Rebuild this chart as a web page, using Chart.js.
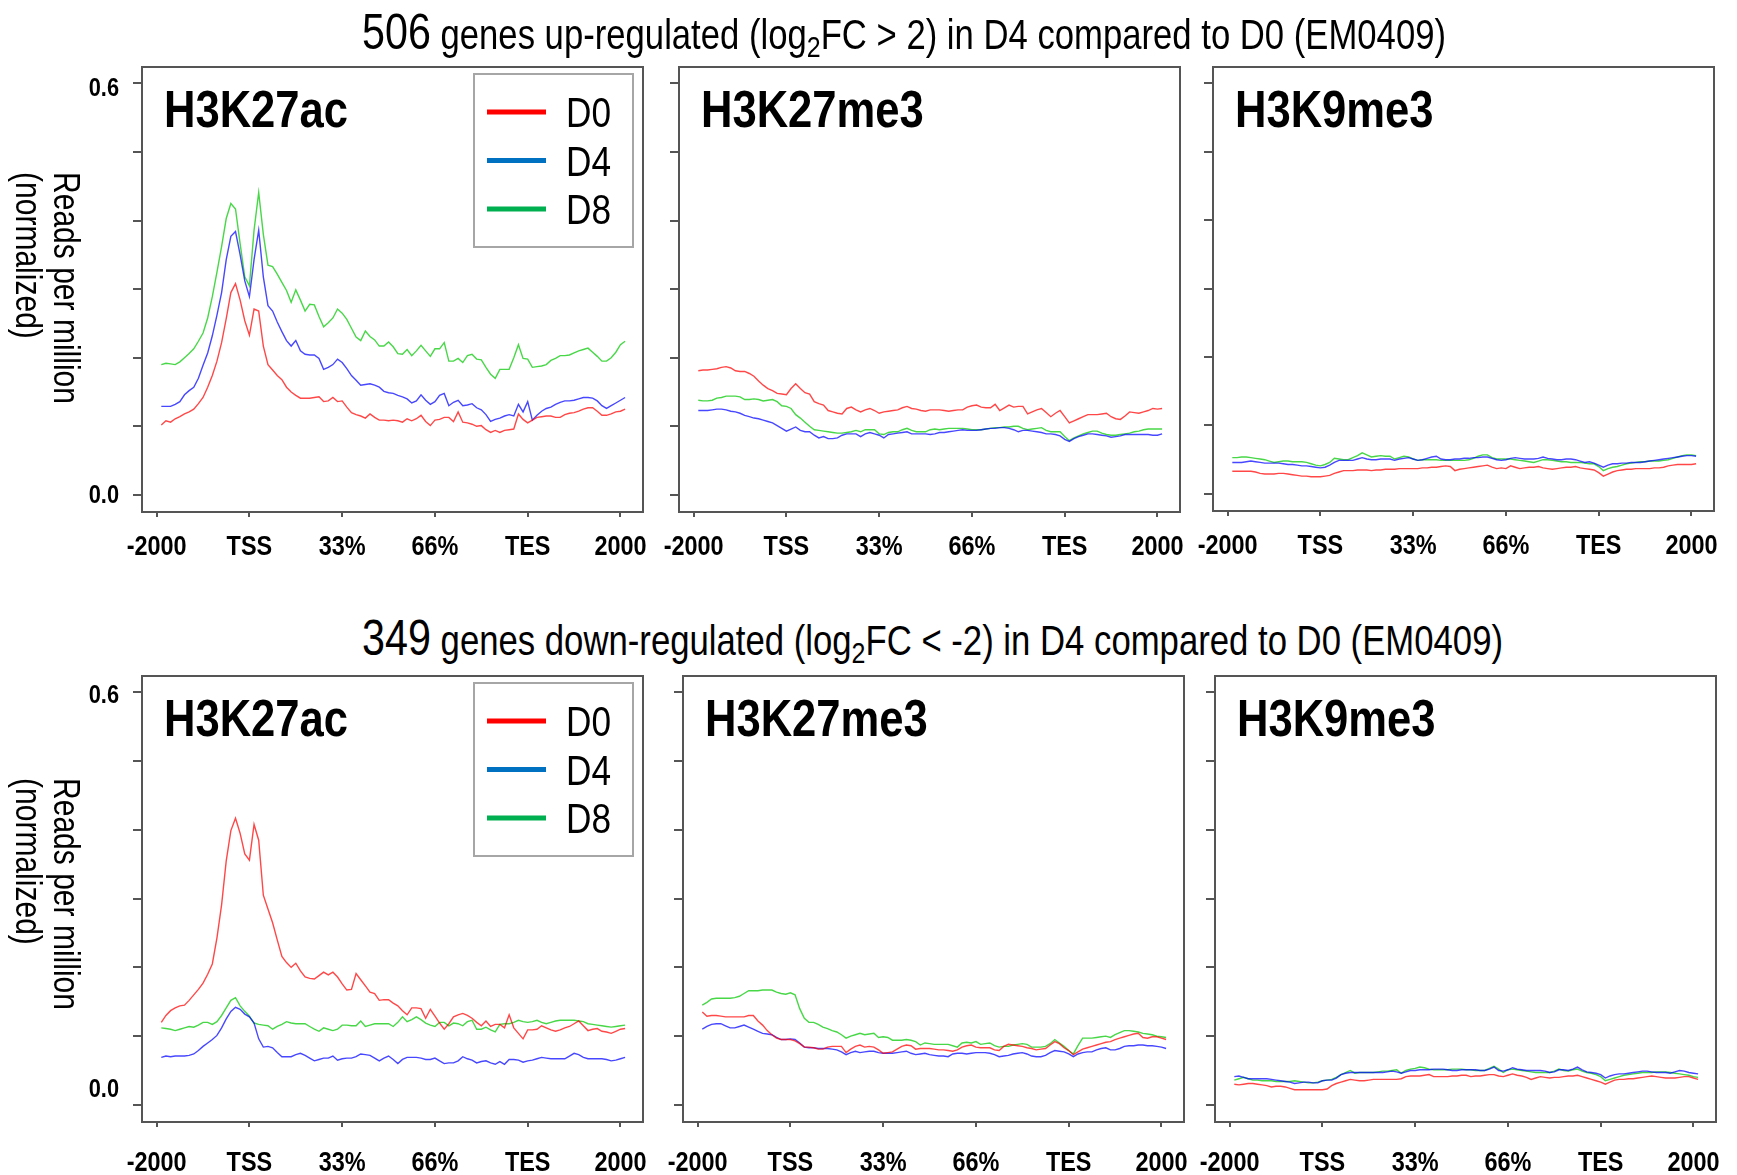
<!DOCTYPE html>
<html>
<head>
<meta charset="utf-8">
<script src="https://cdn.jsdelivr.net/npm/chart.js@4.4.1/dist/chart.umd.min.js"></script>
<style>
html,body{margin:0;padding:0;background:#fff;}
#wrap{position:relative;width:1737px;height:1175px;overflow:hidden;background:#fff;}
#wrap canvas{position:absolute;}
.title{position:absolute;white-space:nowrap;color:#000;transform-origin:0 0;line-height:1;}
.title sub{font-size:0.72em;vertical-align:-0.28em;line-height:1;}
.ytitle{position:absolute;white-space:nowrap;color:#000;transform-origin:0 0;font-size:37px;line-height:38px;}
</style>
</head>
<body>
<div id="wrap"></div>
<script>
// ---------------- data ----------------
const SERIES_NAMES = ['D0', 'D4', 'D8'];
const X_TICKS = [0, 1, 2, 3, 4, 5];
const X_TICK_LABELS = ['-2000', 'TSS', '33%', '66%', 'TES', '2000'];
const Y_TICKS = [0, 0.1, 0.2, 0.3, 0.4, 0.5, 0.6];
const Y_TICK_LABELS = ['0.0', '', '', '', '', '', '0.6'];
const X_FIRST = 0.05, X_STEP = 0.05;   // profile bin positions (in tick units)

// 506 up-regulated genes
const upAcD0 = [0.102,0.108,0.106,0.111,0.114,0.118,0.121,0.125,0.133,0.142,
0.157,0.174,0.195,0.222,0.257,0.295,0.308,0.284,0.254,0.233,
0.271,0.268,0.217,0.190,0.182,0.174,0.168,0.157,0.150,0.145,
0.141,0.141,0.141,0.142,0.143,0.136,0.137,0.142,0.136,0.137,
0.128,0.120,0.117,0.115,0.112,0.118,0.113,0.109,0.109,0.108,
0.109,0.108,0.106,0.111,0.108,0.111,0.116,0.107,0.101,0.109,
0.110,0.113,0.113,0.107,0.121,0.106,0.105,0.103,0.100,0.101,
0.095,0.091,0.094,0.091,0.094,0.095,0.096,0.118,0.110,0.105,
0.109,0.113,0.114,0.115,0.115,0.113,0.113,0.117,0.119,0.120,
0.122,0.125,0.127,0.127,0.122,0.116,0.116,0.118,0.121,0.122,
0.125];
const upAcD4 = [0.129,0.129,0.129,0.132,0.136,0.146,0.152,0.157,0.170,0.189,
0.207,0.232,0.262,0.295,0.343,0.377,0.384,0.350,0.312,0.289,
0.343,0.386,0.318,0.276,0.268,0.252,0.238,0.225,0.217,0.225,
0.210,0.205,0.204,0.204,0.199,0.183,0.186,0.190,0.198,0.193,
0.184,0.174,0.167,0.160,0.161,0.162,0.160,0.157,0.151,0.149,
0.148,0.145,0.143,0.140,0.134,0.137,0.146,0.138,0.132,0.136,
0.145,0.148,0.130,0.135,0.138,0.130,0.131,0.133,0.127,0.124,
0.117,0.107,0.110,0.112,0.115,0.117,0.115,0.132,0.121,0.136,
0.109,0.116,0.122,0.126,0.128,0.132,0.135,0.137,0.137,0.138,
0.140,0.142,0.142,0.141,0.137,0.130,0.126,0.130,0.134,0.138,
0.142];
const upAcD8 = [0.190,0.192,0.191,0.190,0.194,0.200,0.206,0.213,0.224,0.236,
0.258,0.289,0.325,0.362,0.403,0.425,0.417,0.366,0.318,0.305,
0.386,0.441,0.380,0.335,0.333,0.322,0.310,0.298,0.281,0.299,
0.284,0.268,0.278,0.277,0.260,0.245,0.251,0.258,0.271,0.265,
0.256,0.243,0.230,0.225,0.239,0.231,0.226,0.217,0.217,0.223,
0.216,0.206,0.205,0.212,0.203,0.210,0.218,0.210,0.202,0.213,
0.213,0.222,0.195,0.195,0.199,0.193,0.203,0.205,0.198,0.197,
0.186,0.176,0.170,0.183,0.183,0.183,0.200,0.219,0.199,0.198,
0.186,0.187,0.188,0.190,0.196,0.199,0.203,0.203,0.204,0.207,
0.210,0.212,0.214,0.208,0.202,0.195,0.195,0.200,0.208,0.219,
0.224];
const upK27D0 = [0.181,0.182,0.182,0.183,0.184,0.186,0.187,0.185,0.181,0.180,
0.180,0.177,0.173,0.166,0.160,0.155,0.152,0.148,0.147,0.146,
0.155,0.162,0.155,0.149,0.147,0.136,0.133,0.131,0.123,0.121,
0.119,0.118,0.126,0.128,0.124,0.121,0.124,0.126,0.123,0.119,
0.121,0.122,0.123,0.124,0.127,0.129,0.126,0.125,0.123,0.122,
0.124,0.124,0.124,0.123,0.122,0.123,0.124,0.124,0.128,0.130,
0.131,0.128,0.127,0.127,0.132,0.123,0.127,0.131,0.128,0.129,
0.129,0.118,0.121,0.124,0.126,0.120,0.114,0.119,0.123,0.114,
0.105,0.108,0.111,0.114,0.117,0.117,0.117,0.118,0.119,0.114,
0.111,0.110,0.115,0.121,0.120,0.119,0.121,0.123,0.126,0.125,
0.126];
const upK27D4 = [0.123,0.123,0.123,0.124,0.125,0.125,0.124,0.122,0.121,0.119,
0.116,0.114,0.112,0.111,0.109,0.107,0.105,0.101,0.097,0.093,
0.096,0.099,0.094,0.092,0.092,0.087,0.083,0.085,0.082,0.082,
0.083,0.087,0.089,0.089,0.089,0.085,0.089,0.091,0.089,0.087,
0.083,0.088,0.089,0.090,0.091,0.092,0.089,0.089,0.089,0.089,
0.088,0.089,0.091,0.091,0.092,0.093,0.094,0.095,0.094,0.094,
0.094,0.095,0.096,0.097,0.097,0.098,0.098,0.097,0.095,0.092,
0.094,0.094,0.093,0.092,0.091,0.089,0.089,0.088,0.086,0.081,
0.078,0.082,0.085,0.087,0.089,0.089,0.088,0.087,0.086,0.084,
0.085,0.086,0.088,0.088,0.088,0.088,0.088,0.088,0.087,0.087,
0.089];
const upK27D8 = [0.138,0.137,0.137,0.138,0.141,0.142,0.144,0.144,0.144,0.143,
0.139,0.139,0.140,0.139,0.137,0.138,0.139,0.136,0.130,0.129,
0.126,0.117,0.112,0.106,0.100,0.095,0.094,0.093,0.092,0.091,
0.090,0.090,0.091,0.092,0.094,0.092,0.095,0.095,0.095,0.089,
0.088,0.091,0.092,0.092,0.095,0.097,0.094,0.092,0.092,0.092,
0.095,0.096,0.095,0.096,0.097,0.097,0.097,0.097,0.096,0.095,
0.095,0.095,0.096,0.097,0.098,0.098,0.099,0.099,0.100,0.100,
0.097,0.095,0.096,0.097,0.098,0.094,0.092,0.092,0.092,0.085,
0.079,0.083,0.086,0.089,0.091,0.093,0.093,0.090,0.088,0.087,
0.087,0.088,0.089,0.090,0.092,0.093,0.095,0.096,0.096,0.096,
0.096];
const upK9D0 = [0.033,0.033,0.033,0.033,0.033,0.032,0.030,0.029,0.029,0.029,
0.030,0.030,0.029,0.028,0.027,0.026,0.026,0.025,0.025,0.025,
0.026,0.027,0.030,0.032,0.034,0.034,0.034,0.035,0.035,0.035,
0.034,0.035,0.035,0.036,0.036,0.036,0.037,0.037,0.037,0.037,
0.037,0.038,0.038,0.039,0.039,0.040,0.041,0.040,0.034,0.036,
0.037,0.038,0.039,0.040,0.041,0.042,0.039,0.037,0.038,0.037,
0.041,0.039,0.037,0.038,0.039,0.039,0.040,0.038,0.037,0.036,
0.037,0.038,0.039,0.039,0.040,0.038,0.037,0.036,0.035,0.031,
0.026,0.029,0.032,0.034,0.035,0.036,0.036,0.037,0.037,0.037,
0.037,0.038,0.038,0.039,0.041,0.042,0.043,0.043,0.043,0.043,
0.044];
const upK9D4 = [0.046,0.046,0.046,0.047,0.048,0.047,0.046,0.045,0.045,0.045,
0.045,0.044,0.043,0.043,0.042,0.041,0.041,0.040,0.039,0.038,
0.039,0.042,0.046,0.049,0.049,0.049,0.049,0.051,0.053,0.051,
0.050,0.050,0.051,0.051,0.051,0.049,0.051,0.052,0.053,0.051,
0.049,0.050,0.052,0.054,0.055,0.051,0.050,0.050,0.051,0.051,
0.052,0.052,0.053,0.053,0.054,0.054,0.052,0.050,0.049,0.050,
0.052,0.053,0.052,0.051,0.051,0.051,0.052,0.054,0.052,0.051,
0.050,0.050,0.051,0.051,0.050,0.048,0.046,0.047,0.045,0.042,
0.039,0.042,0.044,0.044,0.045,0.045,0.046,0.046,0.046,0.047,
0.048,0.049,0.050,0.051,0.052,0.053,0.054,0.055,0.056,0.056,
0.055];
const upK9D8 = [0.053,0.053,0.054,0.054,0.053,0.052,0.051,0.050,0.048,0.046,
0.047,0.048,0.048,0.047,0.047,0.047,0.046,0.044,0.042,0.041,
0.043,0.046,0.052,0.051,0.050,0.050,0.053,0.056,0.060,0.057,
0.054,0.055,0.056,0.055,0.055,0.051,0.053,0.055,0.054,0.051,
0.049,0.050,0.050,0.050,0.050,0.049,0.049,0.049,0.049,0.049,
0.049,0.050,0.052,0.055,0.057,0.057,0.053,0.051,0.051,0.051,
0.051,0.050,0.049,0.048,0.047,0.046,0.048,0.050,0.050,0.049,
0.048,0.047,0.047,0.046,0.046,0.046,0.045,0.044,0.044,0.040,
0.034,0.037,0.039,0.040,0.042,0.044,0.045,0.046,0.047,0.047,
0.048,0.048,0.048,0.049,0.050,0.052,0.054,0.056,0.057,0.057,
0.056];

// 349 down-regulated genes
const dnAcD0 = [0.120,0.130,0.137,0.141,0.144,0.145,0.152,0.160,0.168,0.177,
0.190,0.205,0.243,0.291,0.355,0.399,0.417,0.395,0.365,0.356,
0.408,0.385,0.305,0.285,0.265,0.240,0.216,0.207,0.200,0.206,
0.195,0.186,0.184,0.183,0.188,0.193,0.189,0.193,0.186,0.176,
0.167,0.168,0.191,0.182,0.173,0.164,0.162,0.152,0.153,0.153,
0.148,0.144,0.137,0.131,0.141,0.141,0.140,0.126,0.139,0.129,
0.119,0.110,0.118,0.128,0.131,0.133,0.130,0.126,0.120,0.115,
0.122,0.114,0.117,0.117,0.112,0.131,0.112,0.104,0.096,0.109,
0.109,0.110,0.115,0.112,0.109,0.107,0.109,0.112,0.114,0.118,
0.122,0.115,0.108,0.110,0.111,0.107,0.106,0.104,0.107,0.110,
0.111];
const dnAcD4 = [0.069,0.071,0.070,0.071,0.071,0.071,0.072,0.074,0.079,0.085,
0.090,0.095,0.101,0.112,0.125,0.136,0.142,0.139,0.132,0.128,
0.119,0.096,0.084,0.085,0.083,0.076,0.070,0.070,0.070,0.073,
0.075,0.072,0.068,0.064,0.066,0.068,0.068,0.071,0.065,0.067,
0.068,0.068,0.070,0.074,0.073,0.072,0.068,0.064,0.068,0.071,
0.066,0.060,0.066,0.069,0.069,0.069,0.068,0.066,0.066,0.068,
0.064,0.060,0.061,0.061,0.064,0.070,0.067,0.065,0.061,0.063,
0.064,0.061,0.059,0.063,0.059,0.066,0.066,0.065,0.062,0.064,
0.065,0.067,0.069,0.068,0.067,0.067,0.067,0.067,0.071,0.075,
0.073,0.069,0.067,0.067,0.067,0.067,0.066,0.064,0.065,0.067,
0.069];
const dnAcD8 = [0.112,0.111,0.110,0.108,0.110,0.112,0.114,0.113,0.116,0.120,
0.120,0.117,0.121,0.130,0.141,0.152,0.156,0.144,0.136,0.129,
0.119,0.117,0.116,0.115,0.110,0.114,0.117,0.121,0.119,0.118,
0.118,0.118,0.114,0.110,0.107,0.112,0.110,0.108,0.110,0.116,
0.116,0.115,0.115,0.122,0.114,0.116,0.118,0.118,0.118,0.118,
0.114,0.120,0.128,0.121,0.124,0.128,0.124,0.119,0.116,0.114,
0.120,0.120,0.115,0.119,0.118,0.115,0.121,0.123,0.110,0.110,
0.113,0.109,0.106,0.117,0.118,0.118,0.120,0.123,0.121,0.120,
0.121,0.123,0.120,0.118,0.120,0.122,0.123,0.123,0.123,0.123,
0.122,0.121,0.118,0.117,0.116,0.115,0.114,0.113,0.114,0.115,
0.116];
const dnK27D0 = [0.135,0.129,0.130,0.130,0.129,0.128,0.128,0.128,0.128,0.128,
0.130,0.130,0.122,0.116,0.108,0.102,0.097,0.095,0.095,0.095,
0.093,0.089,0.084,0.084,0.083,0.081,0.081,0.084,0.085,0.085,
0.085,0.076,0.081,0.085,0.087,0.084,0.085,0.084,0.080,0.075,
0.076,0.077,0.081,0.085,0.087,0.086,0.081,0.082,0.082,0.082,
0.081,0.080,0.080,0.079,0.078,0.080,0.084,0.086,0.087,0.084,
0.083,0.083,0.083,0.080,0.079,0.085,0.088,0.087,0.086,0.085,
0.083,0.082,0.080,0.081,0.082,0.087,0.092,0.089,0.083,0.079,
0.073,0.077,0.081,0.083,0.085,0.087,0.089,0.091,0.092,0.095,
0.097,0.099,0.101,0.103,0.104,0.098,0.097,0.099,0.099,0.097,
0.095];
const dnK27D4 = [0.110,0.114,0.117,0.118,0.118,0.115,0.112,0.112,0.114,0.116,
0.113,0.110,0.107,0.104,0.103,0.102,0.098,0.095,0.095,0.096,
0.095,0.090,0.084,0.083,0.083,0.082,0.082,0.082,0.081,0.080,
0.077,0.073,0.076,0.078,0.076,0.077,0.078,0.078,0.076,0.075,
0.075,0.075,0.076,0.077,0.078,0.075,0.073,0.074,0.075,0.073,
0.072,0.071,0.071,0.070,0.074,0.075,0.075,0.074,0.075,0.076,
0.076,0.076,0.075,0.073,0.070,0.071,0.072,0.074,0.075,0.076,
0.074,0.071,0.070,0.070,0.072,0.076,0.079,0.078,0.077,0.074,
0.070,0.074,0.076,0.077,0.077,0.080,0.082,0.083,0.080,0.080,
0.082,0.085,0.086,0.086,0.087,0.087,0.086,0.086,0.085,0.084,
0.082];
const dnK27D8 = [0.145,0.149,0.154,0.155,0.155,0.155,0.155,0.156,0.158,0.162,
0.166,0.166,0.166,0.167,0.167,0.167,0.164,0.162,0.161,0.163,
0.160,0.140,0.126,0.120,0.120,0.117,0.113,0.111,0.108,0.106,
0.102,0.097,0.100,0.102,0.104,0.102,0.103,0.104,0.098,0.099,
0.098,0.094,0.094,0.094,0.095,0.094,0.092,0.087,0.090,0.089,
0.088,0.088,0.088,0.088,0.086,0.084,0.090,0.091,0.090,0.092,
0.088,0.089,0.090,0.086,0.084,0.085,0.085,0.087,0.088,0.089,
0.088,0.084,0.084,0.084,0.085,0.089,0.095,0.090,0.085,0.079,
0.074,0.086,0.097,0.097,0.097,0.098,0.099,0.100,0.098,0.102,
0.105,0.108,0.108,0.107,0.106,0.104,0.103,0.102,0.100,0.099,
0.098];
const dnK9D0 = [0.030,0.029,0.030,0.031,0.031,0.030,0.029,0.028,0.026,0.027,
0.027,0.026,0.024,0.022,0.022,0.022,0.022,0.022,0.022,0.022,
0.023,0.028,0.031,0.033,0.035,0.037,0.036,0.035,0.035,0.036,
0.037,0.037,0.037,0.037,0.037,0.037,0.038,0.041,0.042,0.042,
0.042,0.043,0.044,0.041,0.041,0.041,0.041,0.042,0.042,0.043,
0.043,0.041,0.042,0.042,0.043,0.044,0.044,0.042,0.041,0.043,
0.045,0.043,0.042,0.040,0.037,0.039,0.041,0.040,0.039,0.040,
0.040,0.041,0.042,0.042,0.043,0.041,0.039,0.037,0.035,0.033,
0.030,0.033,0.036,0.037,0.037,0.038,0.038,0.039,0.040,0.041,
0.042,0.041,0.040,0.039,0.039,0.039,0.040,0.041,0.041,0.039,
0.037];
const dnK9D4 = [0.041,0.042,0.040,0.038,0.038,0.038,0.038,0.038,0.037,0.036,
0.035,0.034,0.033,0.031,0.032,0.033,0.033,0.032,0.032,0.035,
0.036,0.036,0.039,0.044,0.046,0.047,0.047,0.047,0.047,0.047,
0.047,0.047,0.047,0.048,0.049,0.048,0.046,0.048,0.050,0.050,
0.051,0.051,0.051,0.052,0.052,0.052,0.051,0.050,0.050,0.051,
0.051,0.051,0.051,0.050,0.050,0.052,0.055,0.050,0.049,0.051,
0.054,0.052,0.051,0.050,0.050,0.050,0.050,0.049,0.047,0.048,
0.051,0.051,0.050,0.052,0.055,0.051,0.048,0.047,0.046,0.044,
0.039,0.042,0.044,0.045,0.045,0.046,0.047,0.048,0.049,0.049,
0.048,0.047,0.047,0.047,0.046,0.048,0.050,0.049,0.047,0.046,
0.045];
const dnK9D8 = [0.036,0.038,0.040,0.038,0.036,0.036,0.035,0.035,0.035,0.034,
0.034,0.034,0.034,0.035,0.034,0.033,0.032,0.032,0.033,0.035,
0.036,0.037,0.040,0.044,0.047,0.050,0.046,0.047,0.047,0.047,
0.047,0.048,0.049,0.049,0.050,0.051,0.046,0.050,0.052,0.053,
0.055,0.054,0.052,0.051,0.051,0.051,0.051,0.052,0.052,0.052,
0.051,0.051,0.050,0.050,0.050,0.053,0.056,0.052,0.047,0.051,
0.052,0.051,0.050,0.049,0.048,0.047,0.047,0.047,0.047,0.049,
0.052,0.050,0.049,0.051,0.052,0.049,0.047,0.046,0.044,0.041,
0.035,0.037,0.039,0.041,0.043,0.044,0.045,0.046,0.047,0.047,
0.047,0.048,0.048,0.048,0.047,0.046,0.045,0.044,0.043,0.041,
0.040];

// ---------------- text ----------------
const TITLES = [
  {count: '506', pre: ' genes up-regulated (log', sub: '2', post: 'FC > 2) in D4 compared to D0 (EM0409)'},
  {count: '349', pre: ' genes down-regulated (log', sub: '2', post: 'FC < -2) in D4 compared to D0 (EM0409)'}
];
const Y_TITLE = ['Reads per million', '(normalized)'];
const MARKS = ['H3K27ac', 'H3K27me3', 'H3K9me3'];

// ---------------- styles / layout ----------------
const LINE_COLORS = ['rgba(255,0,0,0.72)', 'rgba(0,0,255,0.72)', 'rgba(0,200,0,0.72)'];
const LEGEND_COLORS = ['#ff0000', '#0070c0', '#00b050'];
const AXIS_COLOR = '#555555';
const X_MIN = -0.158, X_MAX = 5.243, Y_MIN = -0.025, Y_MAX = 0.624;
const PAD_L = 90, PAD_R = 22, PAD_T = 5, PAD_B = 62;

function hasFont(name) {
  const c = document.createElement('canvas').getContext('2d');
  const s = 'abcdefghijklmnopqrstuvwxyz ABCDEFGHKM 0123456789%-';
  let diff = false;
  ['monospace', 'serif'].forEach(g => {
    c.font = '40px ' + g; const a = c.measureText(s).width;
    c.font = '40px "' + name + '", ' + g; const b = c.measureText(s).width;
    if (Math.abs(a - b) > 0.5) diff = true;
  });
  return diff;
}
let FONT = 'Liberation Sans';
for (const f of ['Liberation Sans Narrow', 'Arial Narrow']) {
  if (hasFont(f)) { FONT = f; break; }
}
// horizontal squeeze so glyphs match the condensed face of the reference
const _mc = document.createElement('canvas').getContext('2d');
_mc.font = 'bold 52px "' + FONT + '"';
const SQUEEZE = Math.max(0.7, Math.min(1.15, 184 / _mc.measureText('H3K27ac').width));

const binX = upAcD0.map((_, i) => +(X_FIRST + i * X_STEP).toFixed(3));

// box: [left, top, right, bottom]; xLab: cap-centre offset of x labels below frame; yLab: offsets of y labels
const PANELS = [
  {box: [142, 67, 643, 512],  mark: MARKS[0], series: [upAcD0, upAcD4, upAcD8], yLabels: true,  legend: true,  xLab: 33, yLab: [-1, 3]},
  {box: [679, 67, 1180, 512], mark: MARKS[1], series: [upK27D0, upK27D4, upK27D8], yLabels: false, legend: false, xLab: 33},
  {box: [1213, 67, 1714, 511], mark: MARKS[2], series: [upK9D0, upK9D4, upK9D8], yLabels: false, legend: false, xLab: 33},
  {box: [142, 676, 643, 1122],  mark: MARKS[0], series: [dnAcD0, dnAcD4, dnAcD8], yLabels: true,  legend: true,  xLab: 39, yLab: [-17, 1]},
  {box: [683, 676, 1184, 1122], mark: MARKS[1], series: [dnK27D0, dnK27D4, dnK27D8], yLabels: false, legend: false, xLab: 39},
  {box: [1215, 676, 1716, 1122], mark: MARKS[2], series: [dnK9D0, dnK9D4, dnK9D8], yLabels: false, legend: false, xLab: 39}
];

const wrap = document.getElementById('wrap');

function squeezedText(ctx, text, x, y, align) {
  ctx.save();
  ctx.translate(x, y);
  ctx.scale(SQUEEZE, 1);
  ctx.textAlign = align;
  ctx.textBaseline = 'alphabetic';
  ctx.fillText(text, 0, 0);
  ctx.restore();
}

const decoPlugin = {
  id: 'panelDeco',
  afterDraw(chart, args, opts) {
    const ctx = chart.ctx, a = chart.chartArea;
    const xs = chart.scales.x, ys = chart.scales.y;
    ctx.save();
    // frame
    ctx.strokeStyle = AXIS_COLOR; ctx.lineWidth = 2;
    ctx.strokeRect(a.left, a.top, a.right - a.left, a.bottom - a.top);
    ctx.fillStyle = '#000';
    // x tick labels
    ctx.font = 'bold 28px "' + FONT + '"';
    X_TICKS.forEach((v, i) => {
      squeezedText(ctx, X_TICK_LABELS[i], xs.getPixelForValue(v), a.bottom + opts.xLab + 10, 'center');
    });
    // y tick labels
    if (opts.yLabels) {
      ctx.font = 'bold 26px "' + FONT + '"';
      let n = 0;
      Y_TICKS.forEach((v, i) => {
        const t = Y_TICK_LABELS[i];
        if (!t) return;
        squeezedText(ctx, t, a.left - 23, ys.getPixelForValue(v) + opts.yLab[n] + 9.3, 'right');
        n++;
      });
    }
    // panel mark label
    ctx.font = 'bold 52px "' + FONT + '"';
    squeezedText(ctx, opts.mark, a.left + 22, a.top + 60, 'left');
    // legend
    if (opts.legend) {
      const lx = a.left + 332, ly = a.top + 7;
      ctx.strokeStyle = '#a6a6a6'; ctx.lineWidth = 2;
      ctx.strokeRect(lx, ly, 159, 173);
      const rows = [45, 93.5, 142];
      ctx.font = '42px "' + FONT + '"';
      chart.data.datasets.forEach((ds, k) => {
        const y = a.top + rows[k];
        ctx.strokeStyle = LEGEND_COLORS[k]; ctx.lineWidth = 5;
        ctx.beginPath(); ctx.moveTo(a.left + 345, y); ctx.lineTo(a.left + 404, y); ctx.stroke();
        squeezedText(ctx, ds.label, a.left + 424, y + 15, 'left');
      });
    }
    ctx.restore();
  }
};

function makeChart(p) {
  const [l, t, r, b] = p.box;
  const W = (r - l) + PAD_L + PAD_R, H = (b - t) + PAD_T + PAD_B;
  const cv = document.createElement('canvas');
  cv.width = W; cv.height = H;
  cv.style.left = (l - PAD_L) + 'px'; cv.style.top = (t - PAD_T) + 'px';
  cv.style.width = W + 'px'; cv.style.height = H + 'px';
  wrap.appendChild(cv);
  new Chart(cv, {
    type: 'line',
    data: {
      datasets: SERIES_NAMES.map((n, k) => ({
        label: n,
        data: p.series[k].map((v, i) => ({x: binX[i], y: v})),
        borderColor: LINE_COLORS[k],
        borderWidth: 1.4,
        pointRadius: 0,
        fill: false,
        tension: 0
      }))
    },
    options: {
      responsive: false,
      animation: false,
      devicePixelRatio: 1,
      events: [],
      layout: {padding: {left: 0, right: PAD_R, top: PAD_T, bottom: 0}, autoPadding: false},
      plugins: {
        legend: {display: false},
        tooltip: {enabled: false},
        panelDeco: {mark: p.mark, legend: p.legend, yLabels: p.yLabels, xLab: p.xLab, yLab: p.yLab || [0, 0]}
      },
      scales: {
        x: {
          type: 'linear', min: X_MIN, max: X_MAX,
          afterBuildTicks: s => { s.ticks = X_TICKS.map(v => ({value: v})); },
          afterFit: s => { s.height = PAD_B; s.paddingLeft = 0; s.paddingRight = 0; },
          ticks: {display: false, autoSkip: false, maxRotation: 0, minRotation: 0},
          grid: {display: true, drawOnChartArea: false, drawTicks: true, tickLength: 5, color: AXIS_COLOR, lineWidth: 2},
          border: {display: false}
        },
        y: {
          type: 'linear', min: Y_MIN, max: Y_MAX,
          afterBuildTicks: s => { s.ticks = Y_TICKS.map(v => ({value: v})); },
          afterFit: s => { s.width = PAD_L; s.paddingTop = 0; s.paddingBottom = 0; },
          ticks: {display: false, autoSkip: false},
          grid: {display: true, drawOnChartArea: false, drawTicks: true, tickLength: 9, color: AXIS_COLOR, lineWidth: 2},
          border: {display: false}
        }
      }
    },
    plugins: [decoPlugin]
  });
}
PANELS.forEach(makeChart);

// ---------------- HTML titles ----------------
const TITLE_POS = [{left: 362, baseline: 49, width: 1084}, {left: 362, baseline: 655, width: 1141}];
TITLES.forEach((T, k) => {
  const pos = TITLE_POS[k];
  const d = document.createElement('div');
  d.className = 'title';
  d.style.fontFamily = '"' + FONT + '"';
  d.style.fontSize = '42px';
  d.style.left = pos.left + 'px'; d.style.top = '0px';
  const big = document.createElement('span'); big.style.fontSize = '50px'; big.textContent = T.count;
  const s1 = document.createElement('span'); s1.textContent = T.pre;
  const sb = document.createElement('sub'); sb.textContent = T.sub;
  const s2 = document.createElement('span'); s2.textContent = T.post;
  const probe = document.createElement('span');
  probe.style.display = 'inline-block'; probe.style.width = '0px'; probe.style.height = '0px';
  d.append(big, s1, sb, s2, probe);
  wrap.appendChild(d);
  const w = d.getBoundingClientRect().width;
  const base = probe.getBoundingClientRect().top - d.getBoundingClientRect().top;
  d.style.top = (pos.baseline - base) + 'px';
  d.style.transform = 'scaleX(' + (pos.width / w) + ')';
});

// ---------------- rotated y-axis titles ----------------
[{x: 85, y: 172}, {x: 85, y: 778}].forEach(pos => {
  const d = document.createElement('div');
  d.className = 'ytitle';
  d.style.fontFamily = '"' + FONT + '"';
  const l1 = document.createElement('span'); l1.textContent = Y_TITLE[0];
  const l2 = document.createElement('span'); l2.textContent = Y_TITLE[1];
  d.append(l1, document.createElement('br'), l2);
  wrap.appendChild(d);
  const w1 = l1.getBoundingClientRect().width;
  const sx = 232 / w1;
  d.style.left = pos.x + 'px'; d.style.top = pos.y + 'px';
  d.style.transform = 'rotate(90deg) scaleX(' + sx + ')';
});
</script>
</body>
</html>
